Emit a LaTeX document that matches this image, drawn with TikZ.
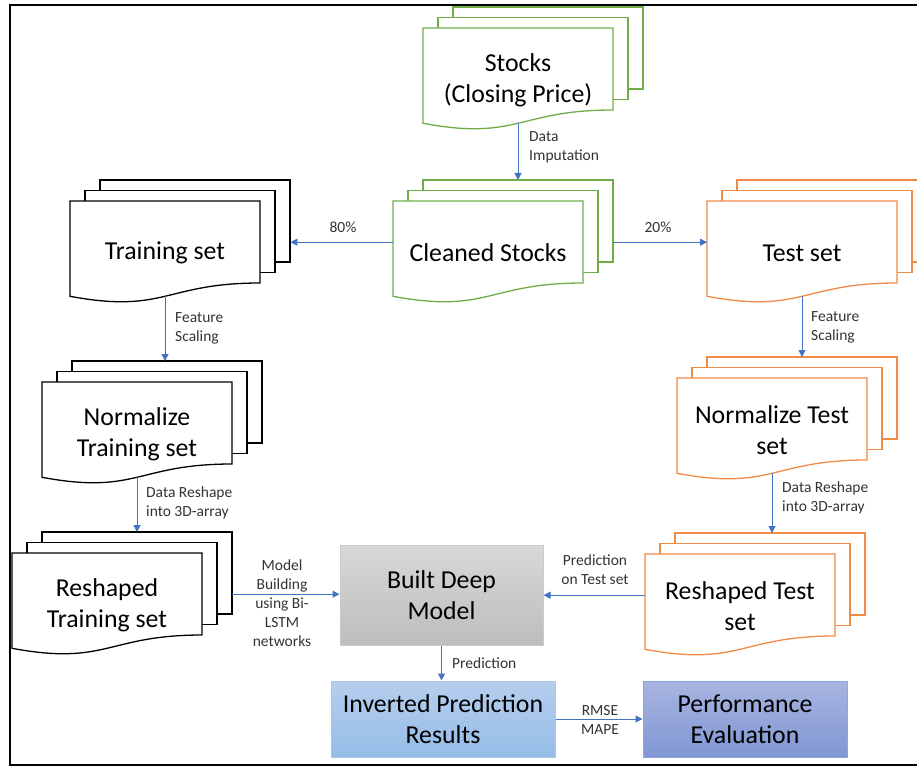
\documentclass[tikz,border=0pt]{standalone}
\usepackage{fontspec}
\setmainfont{Carlito}
\usetikzlibrary{arrows.meta}

\definecolor{docgreen}{HTML}{70AD47}
\definecolor{docorange}{HTML}{F08A47}
\definecolor{arrowblue}{HTML}{4472C4}
\definecolor{greytop}{HTML}{D8D8D8}
\definecolor{greybot}{HTML}{BDBDBD}
\definecolor{greyrim}{HTML}{CBCBCB}
\definecolor{lbluetop}{HTML}{B6CEEE}
\definecolor{lbluebot}{HTML}{95BDE6}
\definecolor{lbluerim}{HTML}{A9C8EA}
\definecolor{dbluetop}{HTML}{A8B5E1}
\definecolor{dbluebot}{HTML}{8096D3}
\definecolor{dbluerim}{HTML}{8EA5DB}

\tikzset{
  docedge/.style={line width=1.3pt, line join=miter},
  bigtext/.style={font=\fontsize{25.8}{31}\selectfont, align=center, inner sep=0pt},
  lbl/.style={font=\fontsize{15.5}{19}\selectfont, align=left, inner sep=0pt, text=black!80},
  flow/.style={draw=arrowblue, line width=1pt, -{Triangle[length=7pt,width=7pt]}},
  pagebox/.style={inner sep=0pt, minimum width=190pt, minimum height=82pt, anchor=north west},
  procbox/.style={inner sep=0pt, line width=1pt, font=\fontsize{25.8}{31}\selectfont, align=center},
}

% A stack of three document pages; the front page has a wavy lower edge.
% #1 name, #2/#3 top-left corner of the front page, #4 edge colour, #5 text
\newcommand\docstack[5]{%
  \begin{scope}[shift={(#2,#3)}]
    \filldraw[docedge, draw=#4, fill=white] (30,-21) rectangle (220,61);
    \filldraw[docedge, draw=#4, fill=white] (15,-10.5) rectangle (205,71.5);
    \filldraw[docedge, draw=#4, fill=white]
      (0,0) -- (190,0) -- (190,82) .. controls (95,82) and (95,113) .. (0,95.3) -- cycle;
    \node[pagebox] (#1) at (0,0) {};
    \node[pagebox] (#1-bk) at (30,-21) {};
    \coordinate (#1-wb) at (95,95);
    \node[bigtext] (#1-txt) at (95,52) {#5};
  \end{scope}}

\begin{document}
\begin{tikzpicture}[x=1pt, y=-1pt]
  \useasboundingbox (0,0) rectangle (917,767);
  \clip (0,0) rectangle (917,767);
  \fill[white] (0,0) rectangle (917,767);

  % outer frame
  \draw[line width=2pt] (917,5) -- (10,5) -- (10,765) -- (917,765);

  % document stacks
  \docstack{stocks}{423}{28}{docgreen}{Stocks\\(Closing Price)}
  \docstack{cleaned}{393}{201}{docgreen}{Cleaned Stocks}
  \docstack{train}{70}{201}{black}{Training set}
  \docstack{test}{707}{201}{docorange}{Test set}
  \docstack{ntrain}{42}{382}{black}{Normalize\\Training set}
  \docstack{ntest}{677}{378}{docorange}{Normalize Test\\set}
  \docstack{rtrain}{12}{553}{black}{Reshaped\\Training set}
  \docstack{rtest}{645}{554}{docorange}{Reshaped Test\\set}

  % process boxes
  \node[procbox, draw=greyrim, top color=greytop, bottom color=greybot,
        minimum width=203pt, minimum height=100pt] (model) at (441.5,595) {Built Deep\\Model};
  \node[procbox, draw=lbluerim, top color=lbluetop, bottom color=lbluebot,
        minimum width=224pt, minimum height=76pt] (inv) at (443,719) {Inverted Prediction\\Results};
  \node[procbox, draw=dbluerim, top color=dbluetop, bottom color=dbluebot,
        minimum width=204pt, minimum height=76pt] (perf) at (745,719) {Performance\\Evaluation};

  % connectors
  \draw[flow] (stocks-wb) -- (stocks-wb |- cleaned-bk.north);
  \draw[flow] (cleaned.west) -- (cleaned.west -| train-bk.east);
  \draw[flow] (test.west -| cleaned-bk.east) -- (test.west);
  \draw[flow] (train-wb) -- (train-wb |- ntrain-bk.north);
  \draw[flow] (test-wb) -- (test-wb |- ntest-bk.north);
  \draw[flow] (ntrain-wb) -- (ntrain-wb |- rtrain-bk.north);
  \draw[flow] (ntest-wb) -- (ntest-wb |- rtest-bk.north);
  \draw[flow] (rtrain.west -| rtrain-bk.east) -- (rtrain.west -| model.west);
  \draw[flow] (rtest.west) -- (rtest.west -| model.east);
  \draw[flow] (model.south) -- (model.south |- inv.north);
  \draw[flow] (inv.east) -- (perf.west);

  % connector labels
  \node[lbl, anchor=west] (l-imp) at (529,147) {Data\\Imputation};
  \node[lbl, align=center] (l-80) at (343,227) {80\%};
  \node[lbl, align=center] (l-20) at (658,227) {20\%};
  \node[lbl, anchor=west] (l-fs1) at (175,328) {Feature\\Scaling};
  \node[lbl, anchor=west] (l-fs2) at (811,327) {Feature\\Scaling};
  \node[lbl, anchor=west] (l-dr1) at (146,503) {Data Reshape\\into 3D-array};
  \node[lbl, anchor=west] (l-dr2) at (782,498) {Data Reshape\\into 3D-array};
  \node[lbl, align=center] (l-mb) at (282,603) {Model\\Building\\using Bi-\\LSTM\\networks};
  \node[lbl, align=center] (l-pt) at (595,570) {Prediction\\on Test set};
  \node[lbl, anchor=west] (l-pr) at (452,663) {Prediction};
  \node[lbl, align=center] (l-err) at (600,720) {RMSE\\MAPE};
\end{tikzpicture}
\end{document}
